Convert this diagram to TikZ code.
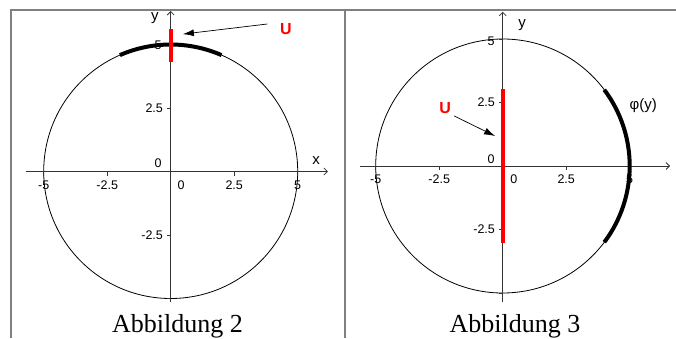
\documentclass[tikz,border=0pt]{standalone}
\usepackage{fontspec}
\setmainfont{Liberation Sans}
\newfontfamily\capfont{Liberation Serif}
\usepackage{tikz}
\usetikzlibrary{arrows.meta}
\definecolor{framegray}{HTML}{808080}
\definecolor{axisgray}{HTML}{333333}
\definecolor{setred}{HTML}{FF0000}

\begin{document}
\begin{tikzpicture}[x=1pt,y=1pt,
  frame/.style={draw=framegray,line width=1.5pt},
  axis/.style={draw=axisgray,line width=0.8pt,
    -{Straight Barb[length=3.5pt,width=7pt]}},
  tickmark/.style={draw=axisgray,line width=0.8pt},
  ticklbl/.style={font=\fontsize{12.5}{14}\selectfont,inner sep=0pt},
  axislbl/.style={font=\fontsize{15}{17}\selectfont,inner sep=0pt},
  bigcircle/.style={draw=black,line width=0.8pt},
  imagearc/.style={draw=black,line width=4pt},
  preimage/.style={draw=setred,line width=3.8pt},
  setlbl/.style={font=\fontsize{16}{18}\selectfont\bfseries,text=setred,
    inner sep=0pt},
  pointer/.style={draw=black,line width=0.7pt,
    -{Latex[length=11pt,width=7pt]}},
  caption/.style={font=\capfont\fontsize{26}{28}\selectfont,anchor=base}
]
  \useasboundingbox (0,0) rectangle (676,338);

  % frame round the two figures
  \draw[frame] (11,0) -- (11,328) -- (676,328);
  \draw[frame] (345,0) -- (345,328);

  % Abbildung 2: U near the top of the y-axis
  \begin{scope}[shift={(170.7pt,166.5pt)},x=25.4pt,y=25.4pt]
    \draw[bigcircle] (0,0) circle[radius=5];
    \draw[axis] (-5.7,0) -- (6.19,0);
    \draw[axis] (0,-5.14) -- (0,6.32);
    \foreach \t in {-5,-2.5,2.5,5} {
      \draw[tickmark] (\t,0) -- (\t,-0.16);
      \draw[tickmark] (0,\t) -- (-0.16,\t);
    }
    \foreach \t/\n in {-5/a,-2.5/b,2.5/c,5/d}
      \node[ticklbl] (xt1\n) at (\t,-0.53) {\t};
    \node[ticklbl] (xt1o) at (0.41,-0.53) {0};
    \node[ticklbl,anchor=east] (yt1c) at (-0.3,2.5) {2.5};
    \node[ticklbl,anchor=east] (yt1b) at (-0.3,-2.5) {-2.5};
    \node[ticklbl] (yt1d) at (-0.5,4.98) {5};
    \node[ticklbl] (yt1o) at (-0.5,0.33) {0};
    \node[axislbl] (xlab1) at (5.73,0.45) {x};
    \node[axislbl] (ylab1) at (-0.62,6.04) {y};

    \draw[imagearc] (66.42:5) arc[start angle=66.42,end angle=113.58,radius=5];
    \draw[preimage] (0,4.3) -- (0,5.62);

    \node[setlbl] (setU1) at (4.54,5.61) {U};
    \coordinate (tipU1) at (0.48,5.41);
    \draw[pointer] ([shift={(-12.7pt,5pt)}]setU1.west) -- (tipU1);
  \end{scope}

  % Abbildung 3: U on the y-axis, image arc on the right
  \begin{scope}[shift={(502.7pt,172pt)},x=25.4pt,y=25.4pt]
    \draw[bigcircle] (0,0) circle[radius=5];
    \draw[axis] (-5.62,0) -- (6.59,0);
    \draw[axis] (0,-5.35) -- (0,6.07);
    \foreach \t in {-5,-2.5,2.5,5} {
      \draw[tickmark] (\t,0) -- (\t,-0.16);
      \draw[tickmark] (0,\t) -- (-0.16,\t);
    }
    \foreach \t/\n in {-5/a,-2.5/b,2.5/c,5/d}
      \node[ticklbl] (xt2\n) at (\t,-0.51) {\t};
    \node[ticklbl] (xt2o) at (0.44,-0.51) {0};
    \node[ticklbl,anchor=east] (yt2c) at (-0.3,2.5) {2.5};
    \node[ticklbl,anchor=east] (yt2b) at (-0.3,-2.5) {-2.5};
    \node[ticklbl] (yt2d) at (-0.46,4.92) {5};
    \node[ticklbl] (yt2o) at (-0.46,0.28) {0};
    \node[axislbl] (ylab2) at (0.76,5.55) {y};

    \draw[imagearc] (-36.87:5) arc[start angle=-36.87,end angle=36.87,radius=5];
    \draw[preimage] (0,-3.03) -- (0,3.03);
    \node[axislbl] (philab) at (5.53,2.36) {φ(y)};

    \node[setlbl] (setU2) at (-2.27,2.28) {U};
    \coordinate (tipU2) at (-0.3,1.18);
    \draw[pointer] ([shift={(3pt,-2pt)}]setU2.south east) -- (tipU2);
  \end{scope}

  \node[caption] (cap2) at (177.5,6) {Abbildung 2};
  \node[caption] (cap3) at (515,6) {Abbildung 3};
\end{tikzpicture}
\end{document}
